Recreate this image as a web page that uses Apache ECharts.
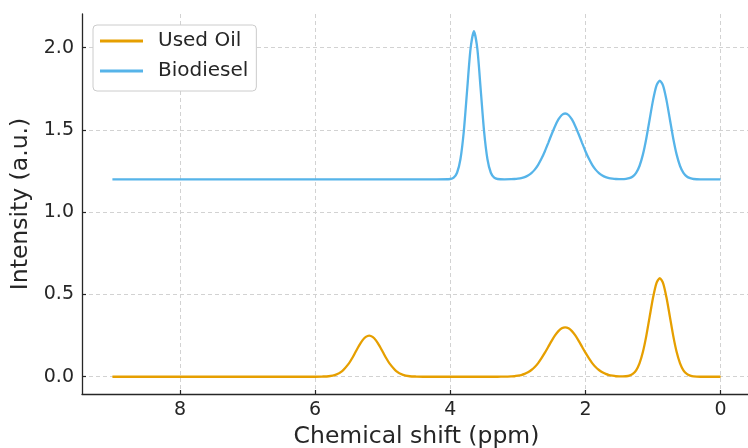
<!DOCTYPE html>
<html>
<head>
<meta charset="utf-8">
<script src="https://cdn.jsdelivr.net/npm/echarts@6/dist/echarts.min.js"></script>
<style>
  html, body { margin: 0; padding: 0; background: #ffffff; }
  #chart { width: 748px; height: 448px; }
</style>
</head>
<body>
<div id="chart"></div>
<script>
// Chemical shift sample positions (ppm)
const shiftPpm = [9.0, 7.0, 6.0, 5.9, 5.8, 5.7, 5.6, 5.5, 5.45, 5.4, 5.35, 5.3, 5.25, 5.2, 5.15, 5.1, 5.05, 5.0, 4.95, 4.9, 4.8, 4.7, 4.6, 4.5, 4.4, 4.2,
  4.0, 3.95, 3.9, 3.85, 3.8, 3.75, 3.7, 3.65, 3.6, 3.55, 3.5, 3.45, 3.4, 3.35, 3.3, 3.2, 3.1, 3.05, 3.0, 2.95, 2.9, 2.85, 2.8, 2.75, 2.7, 2.65, 2.6, 2.55, 2.5, 2.45, 2.4, 2.35,
  2.3, 2.25, 2.2, 2.15, 2.1, 2.05, 2.0, 1.95, 1.9, 1.85, 1.8, 1.75, 1.7, 1.65, 1.6, 1.55, 1.5, 1.45, 1.4, 1.35, 1.3, 1.25, 1.2, 1.15, 1.1, 1.05, 1.0, 0.95, 0.9, 0.85, 0.8, 0.75, 0.7,
  0.65, 0.6, 0.55, 0.5, 0.45, 0.4, 0.3, 0.2, 0.1, 0.0];

// Intensity of used oil (a.u.)
const usedOil = [0, 0, 0, 0.001, 0.003, 0.011, 0.034, 0.081, 0.114, 0.152, 0.189, 0.221, 0.242, 0.25, 0.242, 0.221, 0.189, 0.152, 0.114, 0.081, 0.034, 0.011, 0.003, 0.001, 0, 0,
  0, 0, 0, 0, 0, 0, 0, 0, 0, 0, 0, 0, 0, 0, 0, 0.0005, 0.002, 0.003, 0.006, 0.010, 0.017, 0.027, 0.041, 0.059, 0.083, 0.113, 0.146, 0.182, 0.218, 0.251, 0.277, 0.294,
  0.3, 0.294, 0.277, 0.251, 0.218, 0.182, 0.146, 0.113, 0.083, 0.059, 0.041, 0.027, 0.017, 0.010, 0.006, 0.003, 0.002, 0.002, 0.003, 0.007, 0.017, 0.039, 0.081, 0.150, 0.247, 0.364, 0.480, 0.568, 0.6, 0.568, 0.480, 0.364, 0.247,
  0.150, 0.081, 0.039, 0.017, 0.007, 0.002, 0, 0, 0, 0];

// Intensity of biodiesel (a.u.), offset spectrum
const biodiesel = [1.2, 1.2, 1.2, 1.2, 1.2, 1.2, 1.2, 1.2, 1.2, 1.2, 1.2, 1.2, 1.2, 1.2, 1.2, 1.2, 1.2, 1.2, 1.2, 1.2, 1.2, 1.2, 1.2, 1.2, 1.2, 1.2,
  1.202, 1.210, 1.240, 1.322, 1.492, 1.746, 1.994, 2.100, 1.994, 1.746, 1.492, 1.322, 1.240, 1.210, 1.202, 1.200, 1.201, 1.202, 1.204, 1.207, 1.213, 1.223, 1.238, 1.259, 1.288, 1.326, 1.371, 1.422, 1.474, 1.523, 1.564, 1.591,
  1.600, 1.591, 1.564, 1.523, 1.474, 1.422, 1.371, 1.326, 1.288, 1.259, 1.238, 1.223, 1.213, 1.207, 1.204, 1.202, 1.201, 1.201, 1.203, 1.207, 1.217, 1.239, 1.281, 1.350, 1.447, 1.564, 1.680, 1.768, 1.800, 1.768, 1.680, 1.564, 1.447,
  1.350, 1.281, 1.239, 1.217, 1.207, 1.202, 1.200, 1.2, 1.2, 1.2];

const seriesNames = ['Used Oil', 'Biodiesel'];
const xTicks = [8, 6, 4, 2, 0];
const yTicks = [0, 0.5, 1, 1.5, 2];

const pairs = (ys) => shiftPpm.map((x, i) => [x, ys[i]]);

const FONT = 'DejaVu Sans';
const chart = echarts.init(document.getElementById('chart'), null, { renderer: 'canvas' });

const gridLine = { show: true, lineStyle: { color: '#d2d2d2', width: 1, type: [4, 3] } };

chart.setOption({
  backgroundColor: '#ffffff',
  animation: false,
  textStyle: { fontFamily: FONT },
  grid: { left: 82, right: -3, top: 14, bottom: 54, containLabel: false, outerBoundsMode: 'none' },
  legend: {
    left: 93, top: 25,
    orient: 'vertical',
    data: seriesNames,
    icon: 'rect',
    itemWidth: 43, itemHeight: 3,
    itemGap: 10,
    padding: [6, 8, 10, 7],
    backgroundColor: '#ffffff',
    borderColor: '#cccccc', borderWidth: 1, borderRadius: 4,
    textStyle: { fontFamily: FONT, fontSize: 20, color: '#262626', padding: [0, 0, 0, 10] }
  },
  xAxis: {
    type: 'value',
    inverse: true,
    min: -0.45, max: 9.45,
    name: 'Chemical shift (ppm)',
    nameLocation: 'middle',
    nameGap: 29,
    nameTextStyle: { fontFamily: FONT, fontSize: 23.5, color: '#262626', verticalAlign: 'top' },
    axisLine: { show: true, onZero: false, lineStyle: { color: '#262626', width: 1.3 } },
    axisTick: { show: true, inside: true, length: 4, customValues: xTicks, lineStyle: { color: '#262626', width: 1.2 } },
    axisLabel: { customValues: xTicks, margin: 7, fontFamily: FONT, fontSize: 19, color: '#262626', formatter: (v) => String(v) },
    splitLine: gridLine
  },
  yAxis: {
    type: 'value',
    min: -0.105, max: 2.205,
    name: 'Intensity (a.u.)',
    nameLocation: 'middle',
    nameGap: 42,
    nameRotate: 90,
    nameTextStyle: { fontFamily: FONT, fontSize: 23.5, color: '#262626' },
    axisLine: { show: true, onZero: false, lineStyle: { color: '#262626', width: 1.3 } },
    axisTick: { show: true, inside: true, length: 4, customValues: yTicks, lineStyle: { color: '#262626', width: 1.2 } },
    axisLabel: { customValues: yTicks, margin: 8, fontFamily: FONT, fontSize: 19, color: '#262626', formatter: (v) => v.toFixed(1) },
    splitLine: gridLine
  },
  series: [
    {
      name: seriesNames[0], type: 'line', data: pairs(usedOil),
      showSymbol: false, smooth: 0.25, color: '#E69F00',
      lineStyle: { width: 2.3, color: '#E69F00' }
    },
    {
      name: seriesNames[1], type: 'line', data: pairs(biodiesel),
      showSymbol: false, smooth: 0.25, color: '#56B4E9',
      lineStyle: { width: 2.3, color: '#56B4E9' }
    }
  ]
});
</script>
</body>
</html>
